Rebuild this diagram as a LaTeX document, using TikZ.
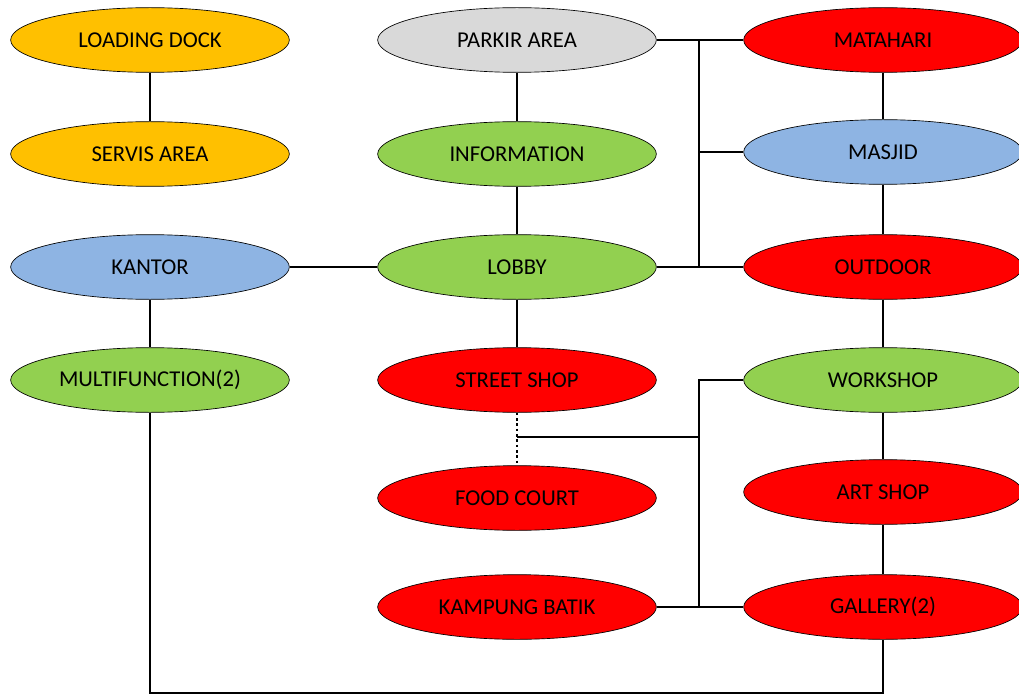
\documentclass[tikz,border=0pt]{standalone}
\usepackage{fontspec}
\setmainfont{Carlito}
\usetikzlibrary{shapes.geometric}

\tikzset{
  zone/.style={ellipse, draw=black, line width=0.5pt, inner sep=0pt,
    minimum width=209pt, minimum height=48.5pt,
    font=\fontsize{17}{20}\selectfont},
  link/.style={line width=2.2pt}
}

\begin{document}
\begin{tikzpicture}[x=0.75pt, y=-0.75pt]
	\definecolor{zoneo}{RGB}{255,192,0}
	\definecolor{zoneg}{RGB}{146,208,80}
	\definecolor{zoneb}{RGB}{142,180,227}
	\definecolor{zoner}{RGB}{255,0,0}
	\definecolor{zonep}{RGB}{217,217,217}

	\useasboundingbox (0,0) rectangle (1019,695);

	% kolom kiri
	\node[zone, fill=zoneo] (dock) at (150,40) {LOADING DOCK};
	\node[zone, fill=zoneo] (servis) at (150,154) {SERVIS AREA};
	\node[zone, fill=zoneb] (kantor) at (150,267) {KANTOR};
	\node[zone, fill=zoneg] (multi) at (150,380) {MULTIFUNCTION(2)};

	% kolom tengah
	\node[zone, fill=zonep] (parkir) at (517,40) {PARKIR AREA};
	\node[zone, fill=zoneg] (info) at (517,154) {INFORMATION};
	\node[zone, fill=zoneg] (lobby) at (517,267) {LOBBY};
	\node[zone, fill=zoner] (street) at (517,380) {STREET SHOP};
	\node[zone, fill=zoner] (food) at (517,498) {FOOD COURT};
	\node[zone, fill=zoner] (batik) at (517,607) {KAMPUNG BATIK};

	% kolom kanan
	\node[zone, fill=zoner] (matahari) at (883,40) {MATAHARI};
	\node[zone, fill=zoneb] (masjid) at (883,152) {MASJID};
	\node[zone, fill=zoner] (outdoor) at (883,267) {OUTDOOR};
	\node[zone, fill=zoneg] (workshop) at (883,380) {WORKSHOP};
	\node[zone, fill=zoner] (artshop) at (883,492) {ART SHOP};
	\node[zone, fill=zoner] (gallery) at (883,607) {GALLERY(2)};

	\coordinate (busA) at (699,40);
	\coordinate (busB) at (699,267);
	\coordinate (busC) at (699,380);
	\coordinate (busD) at (699,607);
	\coordinate (tee) at (517,437);

	\draw[link] (dock) -- (servis);
	\draw[link] (kantor) -- (multi);
	\draw[link] (kantor) -- (lobby);
	\draw[link] (parkir) -- (info);
	\draw[link] (info) -- (lobby);
	\draw[link] (lobby) -- (street);
	\draw[link] (matahari) -- (masjid);
	\draw[link] (masjid) -- (outdoor);
	\draw[link] (outdoor) -- (workshop);
	\draw[link] (workshop) -- (artshop);
	\draw[link] (artshop) -- (gallery);

	\draw[link] (parkir.east) -- (matahari.west);
	\draw[link] (lobby.east) -- (outdoor.west);
	\draw[link] (busA) -- (busB);
	\draw[link] (busA |- masjid) -- (masjid.west);

	\draw[link] (workshop.west) -- (busC) -- (busD);
	\draw[link] (batik.east) -- (gallery.west);
	\draw[link] (busC |- tee) -- (tee);
	\draw[link, line width=2pt, dotted] (street.south) -- (food.north);

	\draw[link] (multi.south) -- (multi.south |- 0,693) -| (gallery.south);
\end{tikzpicture}
\end{document}
